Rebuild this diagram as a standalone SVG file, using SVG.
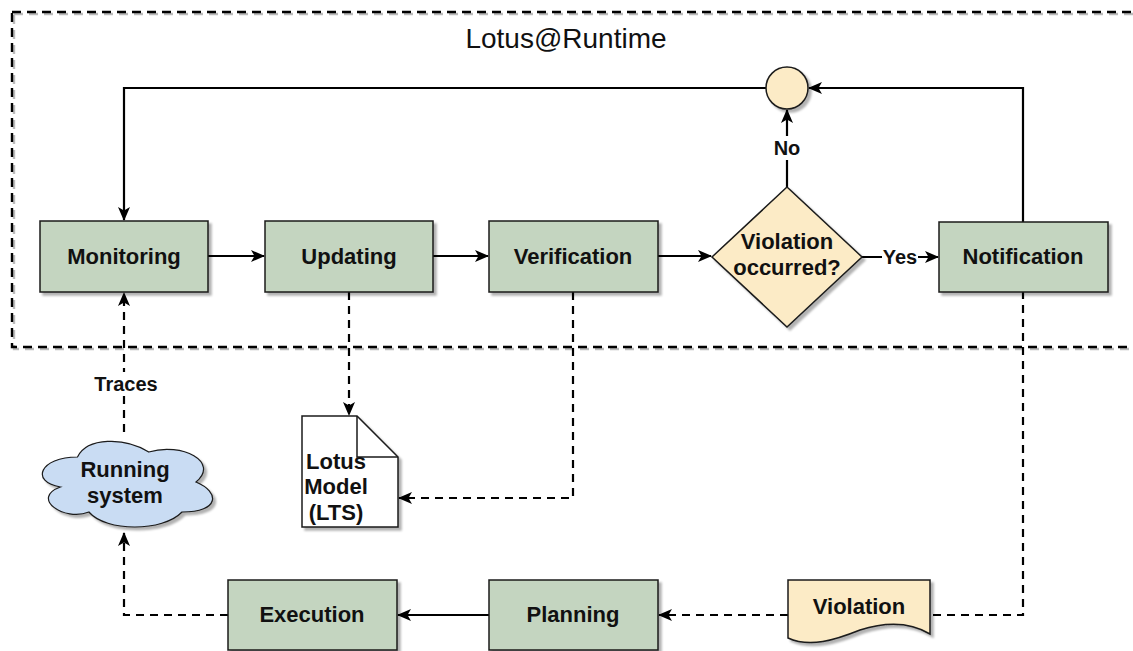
<svg xmlns="http://www.w3.org/2000/svg" width="1133" height="651" viewBox="0 0 1133 651">
<style>
.box{fill:#C4D5C0;stroke:#1a1a1a;stroke-width:1.5;filter:url(#sh)}
.yel{fill:#FCEBC6;stroke:#1a1a1a;stroke-width:1.5;filter:url(#sh)}
.blue{fill:#C9DCF3;stroke:#1a1a1a;stroke-width:1.2;filter:url(#sh)}
.doc{fill:#fff;stroke:#1a1a1a;stroke-width:1.5;filter:url(#sh)}
.t{font-family:"Liberation Sans",Arial,sans-serif;font-weight:bold;font-size:22px;fill:#111;text-anchor:middle}
.lbl{font-family:"Liberation Sans",Arial,sans-serif;font-weight:bold;font-size:20px;fill:#111;text-anchor:middle}
.title{font-family:"Liberation Sans",Arial,sans-serif;font-size:28px;fill:#111;text-anchor:middle}
.e{fill:none;stroke:#000;stroke-width:2.2}
.d{fill:none;stroke:#000;stroke-width:2.2;stroke-dasharray:8 6}
.frame{fill:none;stroke:#000;stroke-width:2.4;stroke-dasharray:9 6}
.frameSh{fill:none;stroke:#bbb;stroke-width:2.4;stroke-dasharray:9 6}
</style>
<defs>
<filter id="sh" x="-10%" y="-10%" width="130%" height="130%">
<feDropShadow dx="3" dy="3" stdDeviation="1.2" flood-color="#000" flood-opacity="0.3"/>
</filter>
<marker id="a" viewBox="0 0 14 12" refX="13" refY="6" markerWidth="14" markerHeight="12" markerUnits="userSpaceOnUse" orient="auto">
<path d="M0,0 L14,6 L0,12 L3.5,6 Z" fill="#000"/>
</marker>
</defs>
<rect width="1133" height="651" fill="#fff"/>

<g id="frame">
<rect class="frameSh" x="14" y="14" width="1140" height="335"/>
<rect class="frame" x="12" y="12" width="1140" height="335"/>
<text class="title" x="566" y="48">Lotus@Runtime</text>
</g>

<g id="connectors">
<path class="e" d="M208,256 H264" marker-end="url(#a)"/>
<path class="e" d="M433,256 H488" marker-end="url(#a)"/>
<path class="e" d="M658,256 H711" marker-end="url(#a)"/>
<path class="e" d="M862,257 H938" marker-end="url(#a)"/>
<rect x="882" y="245" width="36" height="24" fill="#fff"/>
<text class="lbl" x="900" y="264">Yes</text>
<path class="e" d="M787,187 V110" marker-end="url(#a)"/>
<rect x="773" y="136" width="28" height="24" fill="#fff"/>
<text class="lbl" x="787" y="155">No</text>
<path class="e" d="M1023,222 V88 H809" marker-end="url(#a)"/>
<path class="e" d="M766,88 H124 V220" marker-end="url(#a)"/>
<path class="d" d="M124,432 V293" marker-end="url(#a)"/>
<rect x="88" y="372" width="74" height="24" fill="#fff"/>
<text class="lbl" x="126" y="391">Traces</text>
<path class="d" d="M349,292 V415" marker-end="url(#a)"/>
<path class="d" d="M573,292 V498 H399" marker-end="url(#a)"/>
<path class="d" d="M1023,291 V615 H930"/>
<path class="d" d="M788,615 H659" marker-end="url(#a)"/>
<path class="e" d="M489,615 H398" marker-end="url(#a)"/>
<path class="d" d="M228,615 H124 V533" marker-end="url(#a)"/>
</g>

<g id="monitoring">
<rect class="box" x="40" y="221" width="168" height="71"/>
<text class="t" x="124" y="264">Monitoring</text>
</g>
<g id="updating">
<rect class="box" x="265" y="221" width="168" height="71"/>
<text class="t" x="349" y="264">Updating</text>
</g>
<g id="verification">
<rect class="box" x="489" y="221" width="169" height="71"/>
<text class="t" x="573" y="264">Verification</text>
</g>
<g id="decision">
<path class="yel" d="M787,187 L862,257 L787,327 L712,257 Z"/>
<text class="t" x="787" y="249">Violation</text>
<text class="t" x="787" y="275">occurred?</text>
</g>
<g id="notification">
<rect class="box" x="939" y="222" width="169" height="70"/>
<text class="t" x="1023" y="264">Notification</text>
</g>
<g id="merge">
<circle class="yel" cx="787" cy="88" r="21"/>
</g>
<g id="lotusModel">
<path class="doc" d="M302,416 H357 L398,457 V527 H302 Z"/>
<path d="M357,416 V457 H398" fill="none" stroke="#1a1a1a" stroke-width="1.5"/>
<text class="t" x="336" y="469">Lotus</text>
<text class="t" x="336" y="494">Model</text>
<text class="t" x="336" y="520">(LTS)</text>
</g>
<g id="runningSystem">
<path class="blue" d="M77.5,457 C39.5,457 30,482 60.4,487 C30,498 64.2,522 88.9,512 C106,532 163,532 182,512 C220,512 220,492 196,482 C220,462 182,442 148.75,452 C125,437 87,437 77.5,457 Z"/>
<text class="t" x="125" y="477">Running</text>
<text class="t" x="125" y="503">system</text>
</g>
<g id="violation">
<path class="yel" d="M788,580 H930 V634 C910,622 885,622 860,630 C835,640 810,648 788,638 Z"/>
<text class="t" x="859" y="614">Violation</text>
</g>
<g id="planning">
<rect class="box" x="489" y="580" width="169" height="70"/>
<text class="t" x="573" y="622">Planning</text>
</g>
<g id="execution">
<rect class="box" x="228" y="580" width="169" height="70"/>
<text class="t" x="312" y="622">Execution</text>
</g>
</svg>
